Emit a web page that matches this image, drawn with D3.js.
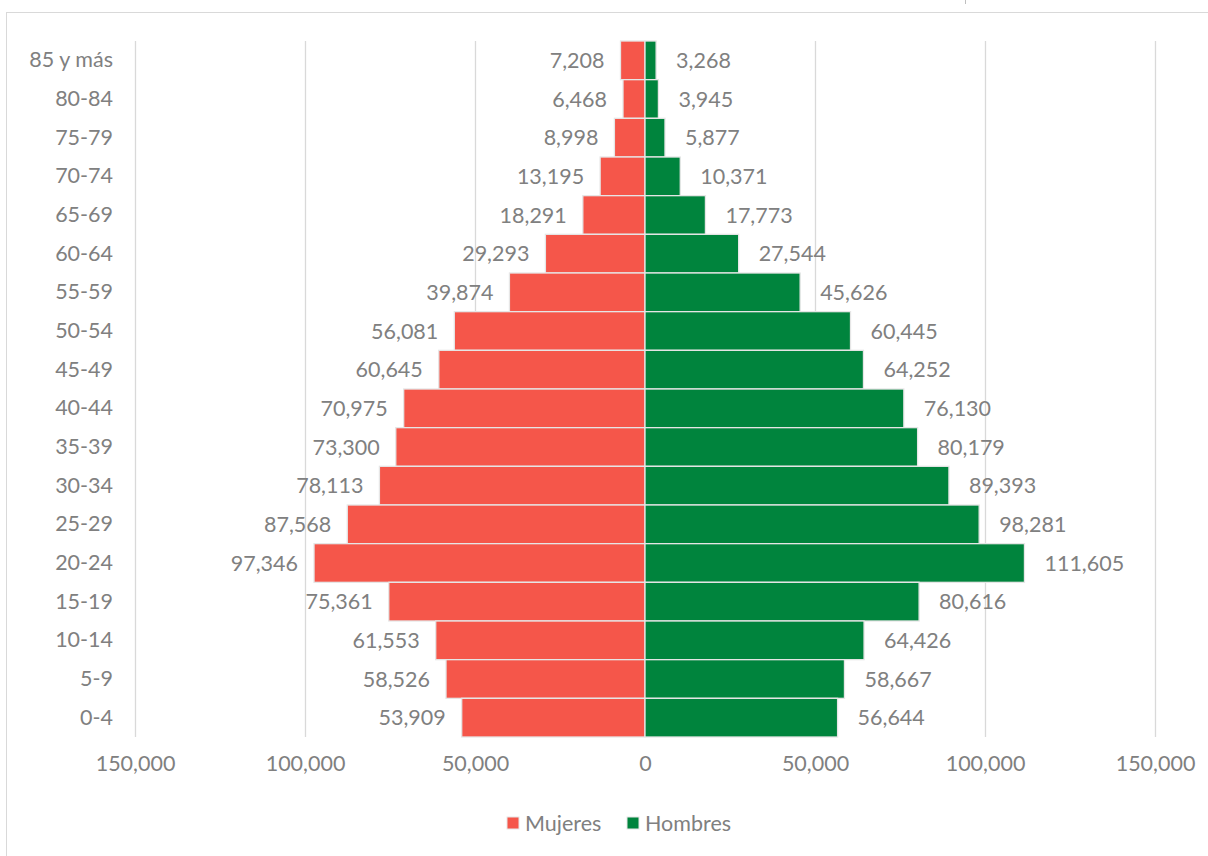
<!DOCTYPE html>
<html><head><meta charset="utf-8">
<script src="https://cdn.jsdelivr.net/npm/d3@7"></script>
<style>
html,body{margin:0;padding:0;background:#fff;}
svg text{font-family:"Source Sans Pro","Lato","Noto Sans",sans-serif;}
</style></head>
<body><svg id="chart" width="1208" height="856"></svg>
<script>
const categories = ["85 y más","80-84","75-79","70-74","65-69","60-64","55-59","50-54","45-49","40-44","35-39","30-34","25-29","20-24","15-19","10-14","5-9","0-4"];
const mujeres = [7208,6468,8998,13195,18291,29293,39874,56081,60645,70975,73300,78113,87568,97346,75361,61553,58526,53909];
const hombres = [3268,3945,5877,10371,17773,27544,45626,60445,64252,76130,80179,89393,98281,111605,80616,64426,58667,56644];
const tickValues = [-150000,-100000,-50000,0,50000,100000,150000];
const seriesNames = ["Mujeres","Hombres"];
const colors = {Mujeres:"#F5564A", Hombres:"#00843D"};
const textColor = "#808080";
const fs = 21.5;

const svg = d3.select("#chart");
svg.append("rect").attr("x",6.5).attr("y",12.5).attr("width",1220).attr("height",860)
  .attr("fill","none").attr("stroke","#d9d9d9").attr("stroke-width",1);
svg.append("line").attr("x1",965.5).attr("x2",965.5).attr("y1",0).attr("y2",4).attr("stroke","#bfbfbf");

const x = d3.scaleLinear().domain([-150000,150000]).range([135,1155]);
const y = d3.scaleBand().domain(categories).range([41,737]).paddingInner(0).paddingOuter(0);

svg.append("g").selectAll("line").data(tickValues).join("line")
  .attr("x1",d=>Math.round(x(d))+0.5).attr("x2",d=>Math.round(x(d))+0.5)
  .attr("y1",41).attr("y2",737).attr("stroke","#d9d9d9").attr("stroke-width",1.3);

const gb = svg.append("g");
gb.selectAll("rect.m").data(categories).join("rect").attr("class","m")
  .attr("x",(d,i)=>x(-mujeres[i])).attr("width",(d,i)=>x(0)-x(-mujeres[i]))
  .attr("y",d=>y(d)).attr("height",y.bandwidth())
  .attr("fill",colors.Mujeres).attr("stroke","#e6e6e6").attr("stroke-width",1.3);
gb.selectAll("rect.h").data(categories).join("rect").attr("class","h")
  .attr("x",x(0)).attr("width",(d,i)=>x(hombres[i])-x(0))
  .attr("y",d=>y(d)).attr("height",y.bandwidth())
  .attr("fill",colors.Hombres).attr("stroke","#e6e6e6").attr("stroke-width",1.3);

const fmt = d3.format(",");
const gl = svg.append("g").attr("font-size",fs).attr("fill",textColor);
gl.selectAll("text.m").data(categories).join("text").attr("class","m")
  .attr("x",(d,i)=>x(-mujeres[i])-16).attr("y",d=>y(d)+y.bandwidth()/2)
  .attr("dy","0.35em").attr("text-anchor","end").text((d,i)=>fmt(mujeres[i]));
gl.selectAll("text.h").data(categories).join("text").attr("class","h")
  .attr("x",(d,i)=>x(hombres[i])+20).attr("y",d=>y(d)+y.bandwidth()/2)
  .attr("dy","0.35em").attr("text-anchor","start").text((d,i)=>fmt(hombres[i]));

const yAxis = d3.axisLeft(y).tickSize(0).tickPadding(0);
const ya = svg.append("g").attr("transform","translate(113,0)").call(yAxis);
ya.select(".domain").remove();
ya.selectAll("text").attr("font-size",fs).attr("fill",textColor).attr("font-family",null);

const xAxis = d3.axisBottom(x).tickValues(tickValues).tickSize(0).tickPadding(0)
  .tickFormat(d=>fmt(Math.abs(d)));
const xa = svg.append("g").attr("transform","translate(0,756)").call(xAxis);
xa.select(".domain").remove();
xa.selectAll("text").attr("font-size",fs).attr("fill",textColor).attr("font-family",null);

const lg = svg.append("g").attr("font-size",fs).attr("fill",textColor);
const legendX = {Mujeres:507, Hombres:627};
seriesNames.forEach(n=>{
  lg.append("rect").attr("x",legendX[n]).attr("y",817).attr("width",12).attr("height",12)
    .attr("fill",colors[n]).attr("stroke","#e6e6e6");
  lg.append("text").attr("x",legendX[n]+18).attr("y",823).attr("dy","0.35em").text(n);
});
</script></body></html>
